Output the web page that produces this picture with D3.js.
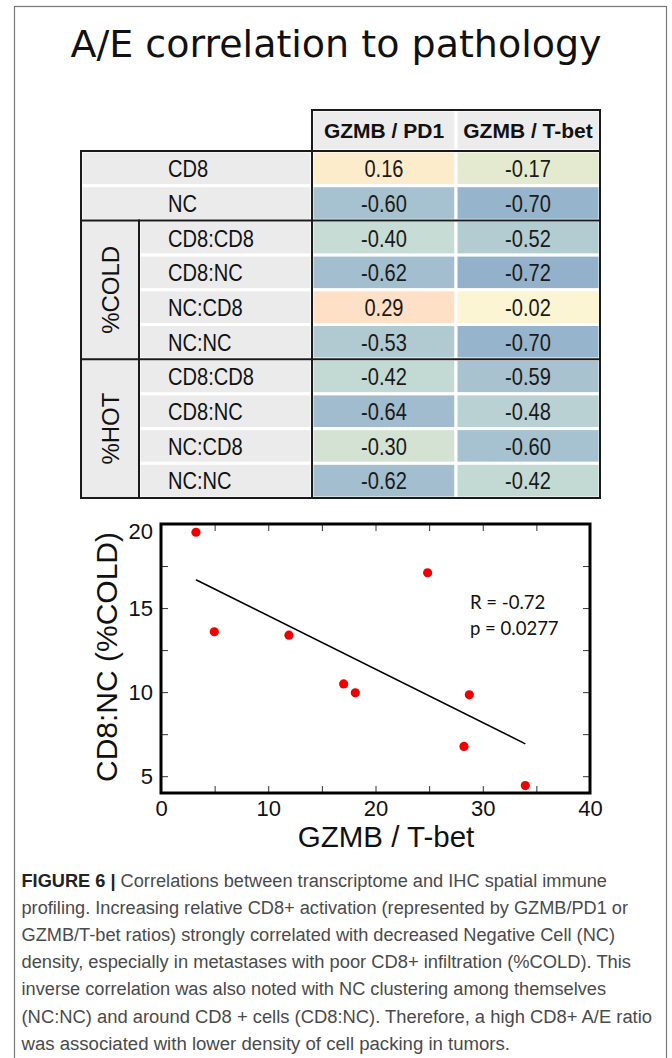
<!DOCTYPE html>
<html>
<head>
<meta charset="utf-8">
<script src="https://cdn.jsdelivr.net/npm/d3@7"></script>
<style>
  body { margin: 0; background: #fff; }
  svg { display: block; }
</style>
</head>
<body>
<div id="chart"></div>
<script>
// ---- DATA

var titulo = "A/E correlation to pathology";

// tabla de correlaciones
var colHeaders = ["GZMB / PD1", "GZMB / T-bet"];
var rowLabels = ["CD8", "NC", "CD8:CD8", "CD8:NC", "NC:CD8", "NC:NC", "CD8:CD8", "CD8:NC", "NC:CD8", "NC:NC"];
var rowGroups = ["", "", "%COLD", "%COLD", "%COLD", "%COLD", "%HOT", "%HOT", "%HOT", "%HOT"];
var pd1Values = [0.16, -0.60, -0.40, -0.62, 0.29, -0.53, -0.42, -0.64, -0.30, -0.62];
var tbetValues = [-0.17, -0.70, -0.52, -0.72, -0.02, -0.70, -0.59, -0.48, -0.60, -0.42];

// dispersion GZMB/T-bet vs CD8:NC (%COLD)
var tbetRatio = [3.26, 4.97, 11.93, 17.03, 18.12, 24.86, 28.75, 28.25, 33.97];
var cd8ncCold = [19.51, 13.59, 13.39, 10.49, 9.96, 17.1, 9.84, 6.77, 4.44];
var xTicks = [0, 5, 10, 15, 20, 25, 30, 35, 40];
var yTicks = [5, 7.5, 10, 12.5, 15, 17.5, 20];
var xLabel = "GZMB / T-bet";
var yLabel = "CD8:NC (%COLD)";
var statsText = ["R = -0.72", "p = 0.0277"];

var captionBold = "FIGURE 6 |";
var captionLines = [
  " Correlations between transcriptome and IHC spatial immune",
  "profiling. Increasing relative CD8+ activation (represented by GZMB/PD1 or",
  "GZMB/T-bet ratios) strongly correlated with decreased Negative Cell (NC)",
  "density, especially in metastases with poor CD8+ infiltration (%COLD). This",
  "inverse correlation was also noted with NC clustering among themselves",
  "(NC:NC) and around CD8 + cells (CD8:NC). Therefore, a high CD8+ A/E ratio",
  "was associated with lower density of cell packing in tumors."
];
var captionEnds = [607, 628, 615, 631, 606, 652, 510];

// ---- SVG

var W = 672, H = 1058;
var svg = d3.select("#chart").append("svg")
    .attr("width", W)
    .attr("height", H);

// marco gris de toda la figura
svg.append("rect")
    .attr("x", 14.5).attr("y", 6.5)
    .attr("width", 652).attr("height", H + 10)
    .attr("fill", "none")
    .attr("stroke", "#777")
    .attr("stroke-width", 1.2);

svg.append("text")
    .attr("x", 336).attr("y", 57)
    .attr("text-anchor", "middle")
    .attr("font-family", "DejaVu Sans")
    .attr("font-size", 38)
    .attr("fill", "#111")
    .text(titulo);

// ---- TABLA

var tLeft = 81, tGroup = 139, tLabel = 312, tRight = 600;
var tHeadTop = 110, tTop = 151, tBottom = 498;
var narrow = 0.82; // simula Arial Narrow

var rowScale = d3.scaleBand()
    .domain(d3.range(rowLabels.length))
    .range([tTop, tBottom]);
var colScale = d3.scaleBand()
    .domain(colHeaders)
    .range([tLabel, tRight]);
var color = d3.scaleLinear()
    .domain([-0.72, -0.6, -0.4, -0.17, 0, 0.16, 0.3])
    .range(["#93b1cb", "#a6c1cf", "#c6dcd4", "#e4eacf", "#fef7d3", "#fdeccb", "#fddfc5"])
    .clamp(true);

var gTabla = svg.append("g");

// cabecera
gTabla.selectAll("rect.head")
    .data(colHeaders)
    .enter().append("rect")
    .attr("class", "head")
    .attr("x", function (d) { return colScale(d); })
    .attr("y", tHeadTop)
    .attr("width", colScale.bandwidth())
    .attr("height", tTop - tHeadTop)
    .attr("fill", "#ececec")
    .attr("stroke", "#fff")
    .attr("stroke-width", 3);

gTabla.selectAll("text.head")
    .data(colHeaders)
    .enter().append("text")
    .attr("class", "head")
    .attr("x", function (d) { return colScale(d) + colScale.bandwidth() / 2; })
    .attr("y", (tHeadTop + tTop) / 2)
    .attr("dy", "0.36em")
    .attr("text-anchor", "middle")
    .attr("font-family", "Liberation Sans, Arial, sans-serif")
    .attr("font-weight", "bold")
    .attr("font-size", 21)
    .attr("fill", "#111")
    .text(function (d) { return d; });

// celdas de etiquetas
var filas = rowLabels.map(function (l, i) {
    return { label: l, group: rowGroups[i], i: i, vals: [pd1Values[i], tbetValues[i]] };
});

gTabla.selectAll("rect.lab")
    .data(filas)
    .enter().append("rect")
    .attr("class", "lab")
    .attr("x", function (d) { return d.group ? tGroup : tLeft; })
    .attr("y", function (d) { return rowScale(d.i); })
    .attr("width", function (d) { return tLabel - (d.group ? tGroup : tLeft); })
    .attr("height", rowScale.bandwidth())
    .attr("fill", "#ebebeb")
    .attr("stroke", "#fff")
    .attr("stroke-width", 3);

// celdas de grupo (%COLD / %HOT)
var grupos = d3.groups(filas.filter(function (d) { return d.group; }), function (d) { return d.group; });
gTabla.selectAll("rect.grp")
    .data(grupos)
    .enter().append("rect")
    .attr("class", "grp")
    .attr("x", tLeft)
    .attr("y", function (d) { return rowScale(d[1][0].i); })
    .attr("width", tGroup - tLeft)
    .attr("height", function (d) { return rowScale.bandwidth() * d[1].length; })
    .attr("fill", "#ebebeb");

gTabla.selectAll("text.grp")
    .data(grupos)
    .enter().append("text")
    .attr("class", "grp")
    .attr("transform", function (d) {
        var yc = rowScale(d[1][0].i) + rowScale.bandwidth() * d[1].length / 2;
        return "translate(" + ((tLeft + tGroup) / 2) + "," + yc + ") rotate(-90)";
    })
    .attr("dy", "0.36em")
    .attr("text-anchor", "middle")
    .attr("font-family", "Liberation Sans, Arial, sans-serif")
    .attr("font-size", 24)
    .attr("fill", "#111")
    .text(function (d) { return d[0]; });

gTabla.selectAll("text.lab")
    .data(filas)
    .enter().append("text")
    .attr("class", "lab")
    .attr("transform", function (d) {
        return "translate(168," + (rowScale(d.i) + rowScale.bandwidth() / 2) + ") scale(" + narrow + ",1)";
    })
    .attr("dy", "0.36em")
    .attr("font-family", "Liberation Sans, Arial, sans-serif")
    .attr("font-size", 24.5)
    .attr("fill", "#111")
    .text(function (d) { return d.label; });

// celdas de valores
var celdas = [];
filas.forEach(function (f) {
    colHeaders.forEach(function (c, j) {
        celdas.push({ i: f.i, col: c, v: f.vals[j] });
    });
});

gTabla.selectAll("rect.val")
    .data(celdas)
    .enter().append("rect")
    .attr("class", "val")
    .attr("x", function (d) { return colScale(d.col); })
    .attr("y", function (d) { return rowScale(d.i); })
    .attr("width", colScale.bandwidth())
    .attr("height", rowScale.bandwidth())
    .attr("fill", function (d) { return color(d.v); })
    .attr("stroke", "#fff")
    .attr("stroke-width", 3);

gTabla.selectAll("text.val")
    .data(celdas)
    .enter().append("text")
    .attr("class", "val")
    .attr("transform", function (d) {
        return "translate(" + (colScale(d.col) + colScale.bandwidth() / 2) + "," +
            (rowScale(d.i) + rowScale.bandwidth() / 2) + ") scale(" + narrow + ",1)";
    })
    .attr("dy", "0.36em")
    .attr("text-anchor", "middle")
    .attr("font-family", "Liberation Sans, Arial, sans-serif")
    .attr("font-size", 24.5)
    .attr("fill", "#1a1a1a")
    .text(function (d) { return d.v.toFixed(2); });

// lineas negras
var lineas = [
    [tLabel, tHeadTop, tRight, tHeadTop],
    [tLabel, tHeadTop, tLabel, tBottom],
    [tRight, tHeadTop, tRight, tBottom],
    [tLeft, tTop, tRight, tTop],
    [tLeft, tTop, tLeft, tBottom],
    [tLeft, tBottom, tRight, tBottom],
    [tLeft, rowScale(2), tRight, rowScale(2)],
    [tLeft, rowScale(6), tRight, rowScale(6)],
    [tGroup, rowScale(2), tGroup, tBottom]
];
gTabla.selectAll("line.borde")
    .data(lineas)
    .enter().append("line")
    .attr("class", "borde")
    .attr("x1", function (d) { return d[0]; })
    .attr("y1", function (d) { return d[1]; })
    .attr("x2", function (d) { return d[2]; })
    .attr("y2", function (d) { return d[3]; })
    .attr("stroke", "#1a1a1a")
    .attr("stroke-width", 2)
    .attr("stroke-linecap", "square");

// ---- DISPERSION

var pLeft = 161, pRight = 590, pTop = 524, pBottom = 793;
var x = d3.scaleLinear().domain([0, 40]).range([pLeft, pRight]);
var y = d3.scaleLinear().domain([4, 20]).range([pBottom, pTop]);

var gPlot = svg.append("g");

function estiloEje(g) {
    g.select(".domain").remove();
    g.selectAll(".tick line").attr("stroke", "#333").attr("stroke-width", 1);
    g.selectAll(".tick text")
        .attr("font-family", "Liberation Sans, Arial, sans-serif")
        .attr("fill", "#111");
}

gPlot.append("g")
    .attr("transform", "translate(0," + pBottom + ")")
    .call(d3.axisBottom(x).tickValues(xTicks).tickSize(-7).tickPadding(7)
        .tickFormat(function (d) { return d % 10 === 0 ? d : ""; }))
    .call(estiloEje)
    .selectAll(".tick text").attr("font-size", 22);

gPlot.append("g")
    .attr("transform", "translate(0," + pTop + ")")
    .call(d3.axisTop(x).tickValues(xTicks).tickSize(-7).tickFormat(""))
    .call(estiloEje);

var ejeY = gPlot.append("g")
    .attr("transform", "translate(" + pLeft + ",0)")
    .call(d3.axisLeft(y).tickValues(yTicks).tickSize(-7).tickPadding(8)
        .tickFormat(function (d) { return d % 5 === 0 ? d : ""; }))
    .call(estiloEje);
ejeY.selectAll(".tick text").attr("font-size", 22);
// el "20" queda un poco por debajo del borde superior
ejeY.selectAll(".tick text").filter(function (d) { return d === 20; }).attr("dy", "0.64em");

gPlot.append("g")
    .attr("transform", "translate(" + pRight + ",0)")
    .call(d3.axisRight(y).tickValues(yTicks).tickSize(-7).tickFormat(""))
    .call(estiloEje);

gPlot.append("rect")
    .attr("x", pLeft).attr("y", pTop)
    .attr("width", pRight - pLeft).attr("height", pBottom - pTop)
    .attr("fill", "none")
    .attr("stroke", "#000")
    .attr("stroke-width", 3);

// recta de regresion (minimos cuadrados)
var puntos = tbetRatio.map(function (v, i) { return [v, cd8ncCold[i]]; });
var mx = d3.mean(tbetRatio), my = d3.mean(cd8ncCold);
var pendiente = d3.sum(puntos, function (p) { return (p[0] - mx) * (p[1] - my); }) /
    d3.sum(puntos, function (p) { return (p[0] - mx) * (p[0] - mx); });
var ext = d3.extent(tbetRatio);
var recta = ext.map(function (v) { return [v, my + pendiente * (v - mx)]; });

gPlot.append("path")
    .datum(recta)
    .attr("d", d3.line().x(function (d) { return x(d[0]); }).y(function (d) { return y(d[1]); }))
    .attr("fill", "none")
    .attr("stroke", "#000")
    .attr("stroke-width", 1.6);

gPlot.selectAll("circle.pt")
    .data(puntos)
    .enter().append("circle")
    .attr("class", "pt")
    .attr("cx", function (d) { return x(d[0]); })
    .attr("cy", function (d) { return y(d[1]); })
    .attr("r", 4.6)
    .attr("fill", "#f20000");

gPlot.selectAll("text.stat")
    .data(statsText)
    .enter().append("text")
    .attr("class", "stat")
    .attr("x", 470)
    .attr("y", function (d, i) { return 609 + i * 26; })
    .attr("font-family", "Lato, Open Sans, sans-serif")
    .attr("font-size", 18.5)
    .attr("fill", "#111")
    .text(function (d) { return d; });

gPlot.append("text")
    .attr("x", 386).attr("y", 847)
    .attr("text-anchor", "middle")
    .attr("font-family", "Liberation Sans, Arial, sans-serif")
    .attr("font-size", 29.5)
    .attr("fill", "#111")
    .text(xLabel);

gPlot.append("text")
    .attr("transform", "translate(117,657) rotate(-90)")
    .attr("text-anchor", "middle")
    .attr("font-family", "Liberation Sans, Arial, sans-serif")
    .attr("font-size", 30)
    .attr("fill", "#111")
    .text(yLabel);

// ---- PIE DE FIGURA

var capScale = 0.88; // fuente del pie algo condensada
var cap = svg.append("g");
captionLines.forEach(function (linea, i) {
    var t = cap.append("text")
        .attr("transform", "translate(21.5," + (887 + i * 27.1) + ") scale(" + capScale + ",1)")
        .attr("font-family", "Liberation Sans, Arial, sans-serif")
        .attr("font-size", 19)
        .attr("fill", "#4a4a4a")
        .attr("textLength", (captionEnds[i] - 21.5) / capScale)
        .attr("lengthAdjust", "spacingAndGlyphs");
    if (i === 0) {
        t.append("tspan").attr("font-weight", "bold").attr("fill", "#222").text(captionBold);
    }
    t.append("tspan").text(linea);
});
</script>
</body>
</html>
